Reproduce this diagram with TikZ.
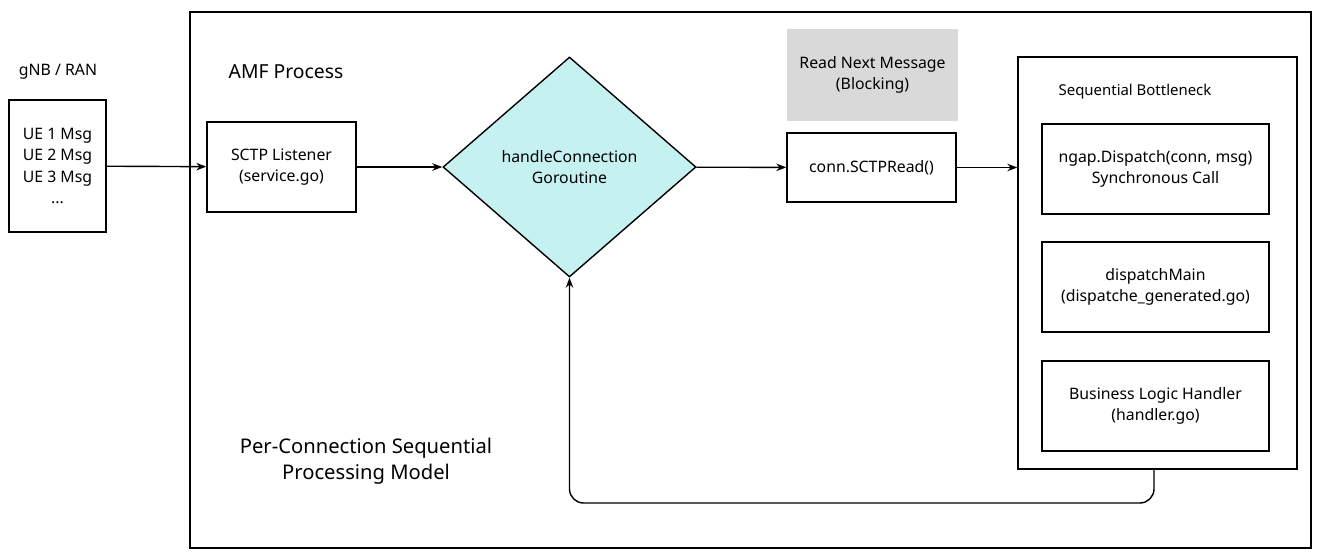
\documentclass[tikz,border=0pt]{standalone}
\usepackage{fontspec}
\setmainfont{Noto Sans}
\usepackage{tikz}
\usetikzlibrary{shapes.geometric,arrows.meta}
\definecolor{gorcyan}{HTML}{C6F1F1}
\definecolor{blockgray}{HTML}{D9D9D9}
\tikzset{
  box/.style={draw, thick, rectangle, align=center, font=\fontsize{9}{12}\selectfont},
  link/.style={thick, -{Stealth[length=2mm]}}
}
\begin{document}
\begin{tikzpicture}[x=0.02cm, y=-0.02cm]
\useasboundingbox (0,0) rectangle (1319,557);
\node[draw, thick, rectangle, minimum width=1121*0.02cm, minimum height=536*0.02cm](AMF) at (750.5,280) {};
\node[font=\fontsize{11}{13}\selectfont](AMF_label) at (286,72) {AMF Process};
\node[font=\fontsize{9}{12}\selectfont](RAN_label) at (58,72) {gNB / RAN};

\node[box, minimum width=97*0.02cm, minimum height=132*0.02cm](UE) at (57.5,166) {UE 1 Msg\\UE 2 Msg\\UE 3 Msg\\...};
\node[box, minimum width=149*0.02cm, minimum height=90*0.02cm](SCTP) at (281.5,167) {SCTP Listener\\(service.go)};
\node[draw, thick, diamond, aspect=1.15, fill=gorcyan, minimum width=253*0.02cm, minimum height=220*0.02cm, inner sep=0pt](G) at (569.5,167) {};
\node[align=center, font=\fontsize{9}{12}\selectfont](G_label) at (569.5,167) {handleConnection\\Goroutine};
\node[rectangle, fill=blockgray, align=center, font=\fontsize{9}{12}\selectfont, minimum width=171*0.02cm, minimum height=92*0.02cm](Block) at (872.5,75) {Read Next Message\\(Blocking)};
\node[box, minimum width=169*0.02cm, minimum height=69*0.02cm](Read) at (871.5,167.5) {conn.SCTPRead()};

\node[draw, thick, rectangle, minimum width=279*0.02cm, minimum height=412*0.02cm](Seq) at (1157.5,263) {};
\node[font=\fontsize{8.5}{11}\selectfont](Seq_label) at (1135,92) {Sequential Bottleneck};
\node[box, minimum width=227*0.02cm, minimum height=90*0.02cm](D1) at (1155.5,169) {ngap.Dispatch(conn, msg)\\Synchronous Call};
\node[box, minimum width=227*0.02cm, minimum height=90*0.02cm](D2) at (1155.5,287) {dispatchMain\\(dispatche\_generated.go)};
\node[box, minimum width=227*0.02cm, minimum height=90*0.02cm](D3) at (1155.5,406) {Business Logic Handler\\(handler.go)};

\node[align=center, font=\bfseries\fontsize{11.5}{15}\selectfont](Model) at (366,461) {Per-Connection Sequential\\Processing Model};

\draw[link](UE) to (SCTP);
\draw[link](SCTP) to (G);
\draw[link](G) to (Read);
\draw[link](Read) to (Seq.west |- Read);
\draw[link, rounded corners=8pt](Seq.south -| 1154,0) -- (1154,503) -- (569.5,503) -- (G.south);
\end{tikzpicture}
\end{document}
